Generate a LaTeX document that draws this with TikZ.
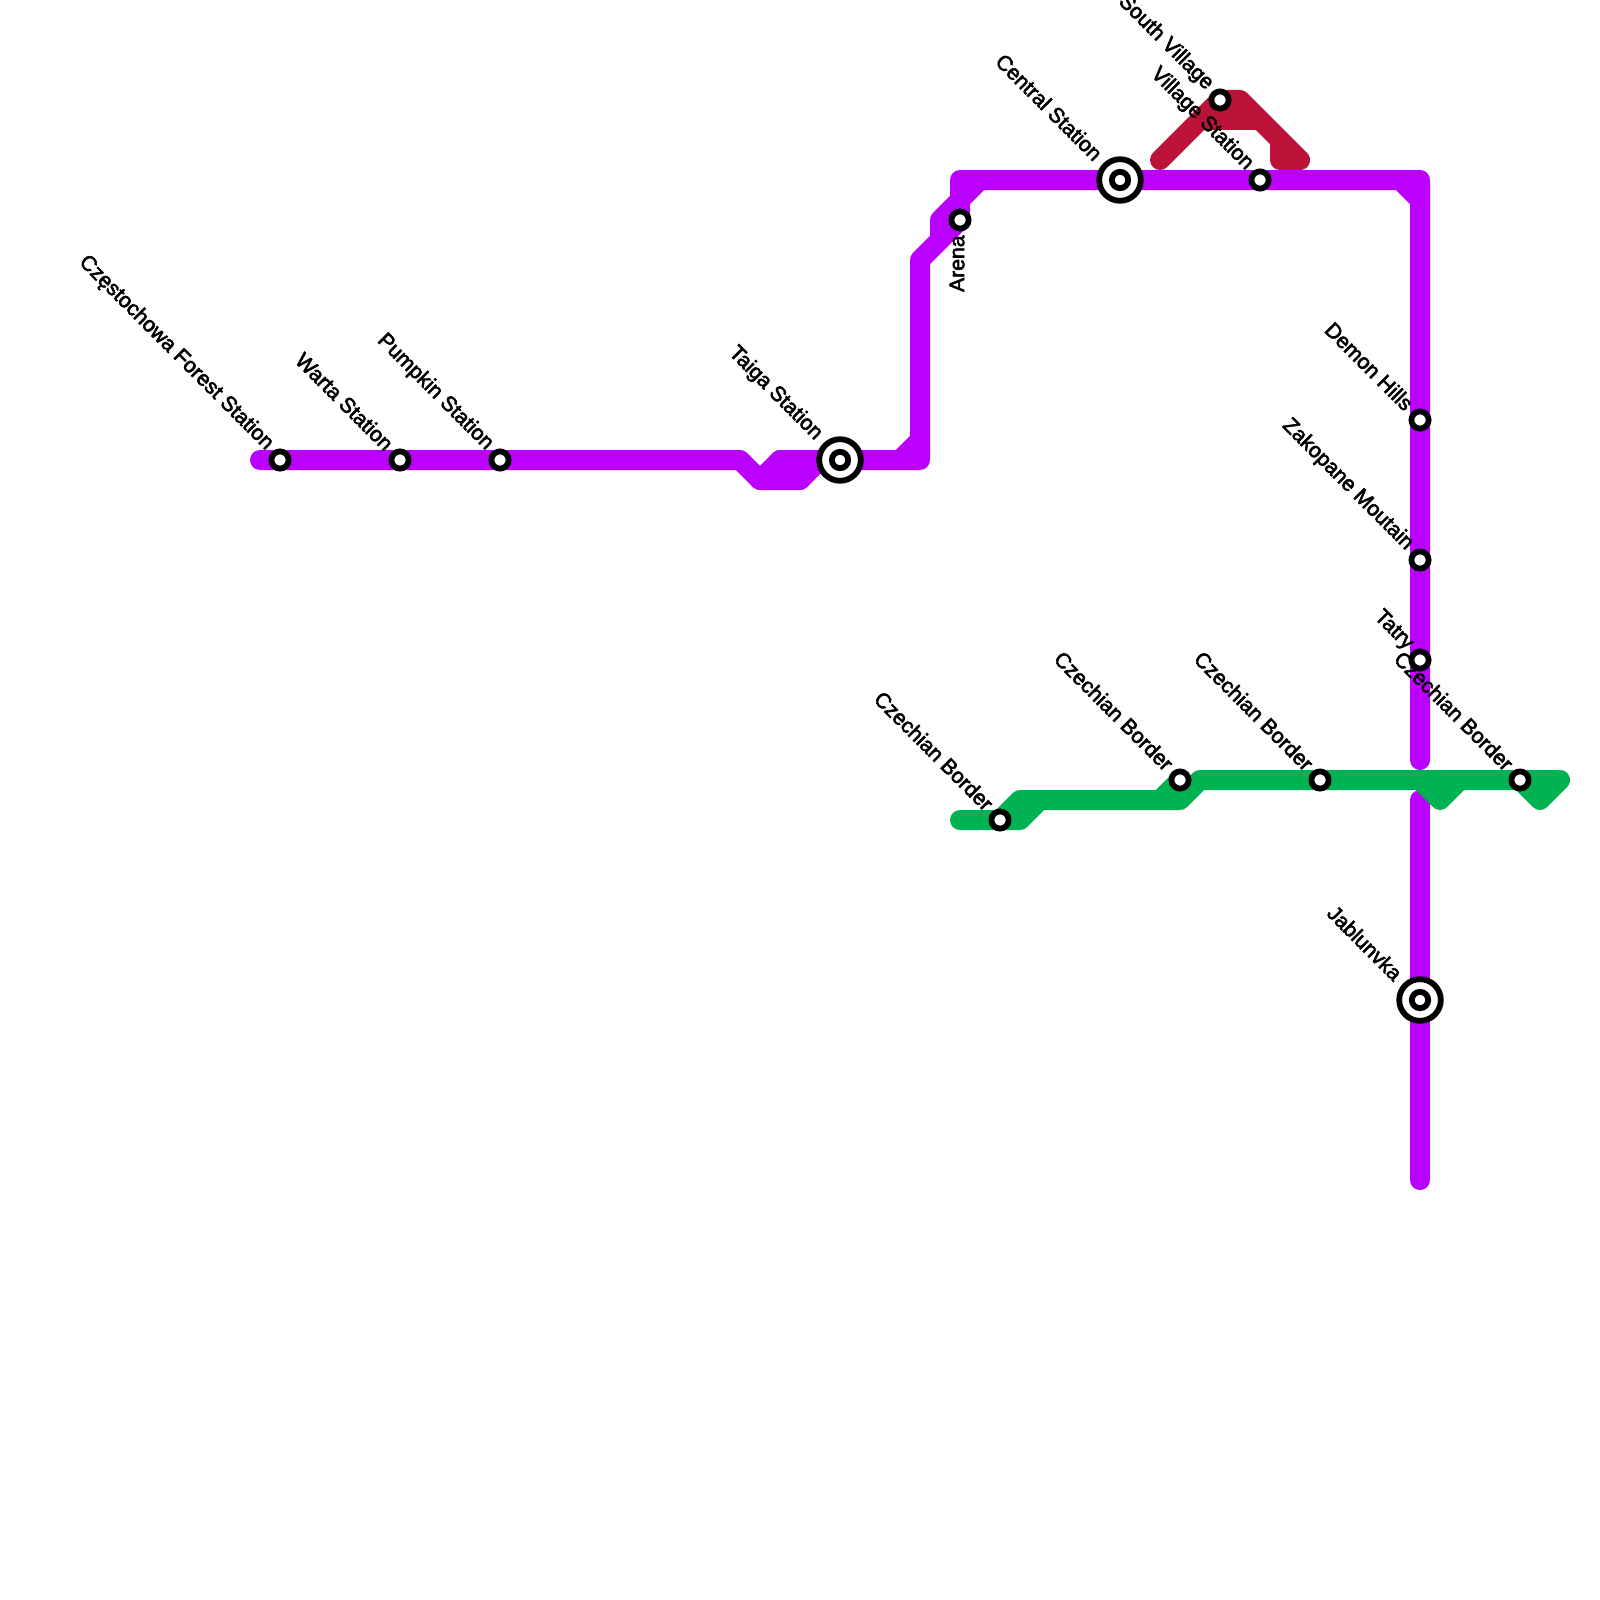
\documentclass[tikz,border=0pt]{standalone}
\usepackage{fontspec}
\newfontfamily\labelfont{Liberation Sans}
\definecolor{purpleline}{HTML}{BC00FF}
\definecolor{redline}{HTML}{BC1238}
\definecolor{greenline}{HTML}{00B251}
\newcommand{\heavytext}[1]{\special{pdf:code 2 Tr 0.28 w}#1\special{pdf:code 0 Tr 1 w}}
\tikzset{
  route/.style={line width=10pt,line cap=round,line join=round},
  plainstop/.style={circle,draw=black,fill=white,line width=2.9pt,minimum size=8.6pt,inner sep=0pt},
  bigstop/.style={circle,draw=black,fill=white,line width=2.9pt,minimum size=20.8pt,inner sep=0pt},
  hubdot/.style={circle,draw=black,fill=white,line width=2.9pt,minimum size=8.2pt,inner sep=0pt},
  stoplabel/.style={font=\labelfont\fontsize{10.6pt}{12pt}\selectfont,text=black,inner sep=0pt,anchor=east,rotate=-45},
}
\begin{document}
\begin{tikzpicture}[x=0.5pt,y=-0.5pt]
\useasboundingbox (0,0) rectangle (1600,1600);
\fill[white] (0,0) rectangle (1600,1600);
% route points
\foreach \n/\x/\y in {
 a1/260/460,a2/740/460,a3/760/480,a4/800/480,a5/820/460,a6/780/460,a7/920/460,a8/900/460,a9/920/440,
 b1/920/260,b2/940/240,b3/940/220,b4/960/200,b5/960/220,b6/960/180,b7/980/180,
 c1/1420/180,c2/1400/180,c3/1420/200,c4/1420/760,d1/1420/800,d2/1420/1180,
 r1/1160/160,r2/1220/100,r3/1240/100,r4/1300/160,r5/1280/160,r6/1280/140,r7/1260/120,r8/1200/120,
 g1/960/820,g2/1020/820,g3/1040/800,g4/1180/800,g5/1200/780,g6/1560/780,g7/1540/800,g8/1520/780,
 g9/1000/820,g10/1020/800,g11/1160/800,g12/1180/780,g13/1420/780,g14/1440/800,g15/1460/780}
 {\coordinate (\n) at (\x,\y);}
% stations
\coordinate (s1) at (280,460);
\coordinate (s2) at (400,460);
\coordinate (s3) at (500,460);
\coordinate (s4) at (840,460);
\coordinate (s5) at (960,220);
\coordinate (s6) at (1120,180);
\coordinate (s7) at (1220,100);
\coordinate (s8) at (1260,180);
\coordinate (s9) at (1420,420);
\coordinate (s10) at (1420,560);
\coordinate (s11) at (1420,660);
\coordinate (s12) at (1420,1000);
\coordinate (s13) at (1000,820);
\coordinate (s14) at (1180,780);
\coordinate (s15) at (1320,780);
\coordinate (s16) at (1520,780);
% red line
\draw[route,redline] (r1)--(r2)--(r3)--(r4)--(r5)--(r6)--(r7)--(r8);
% purple line
\draw[route,purpleline] (a1)--(a2)--(a3)--(a4)--(a5)--(s4);
\draw[route,purpleline] (a3)--(a6)--(a7)--(b1)--(b2)--(b5)--(b6)--(c1)--(c4);
\draw[route,purpleline] (a8)--(a9);
\draw[route,purpleline] (b2)--(b3)--(b4)--(b7);
\draw[route,purpleline] (c2)--(c3);
\draw[route,purpleline] (a6)--(a4);
\draw[route,purpleline] (d1)--(d2);
% green line
\draw[route,greenline] (g1)--(g2)--(g3)--(g4)--(g5)--(g6)--(g7)--(g8);
\draw[route,greenline] (g9)--(g10)--(g3);
\draw[route,greenline] (g11)--(g12);
\draw[route,greenline] (g13)--(g14)--(g15);
% station markers
\node[plainstop] (n1) at (s1) {};
\node[plainstop] (n2) at (s2) {};
\node[plainstop] (n3) at (s3) {};
\node[bigstop] (n4) at (s4) {};
\node[hubdot] (n4i) at (s4) {};
\node[plainstop] (n5) at (s5) {};
\node[bigstop] (n6) at (s6) {};
\node[hubdot] (n6i) at (s6) {};
\node[plainstop] (n7) at (s7) {};
\node[plainstop] (n8) at (s8) {};
\node[plainstop] (n9) at (s9) {};
\node[plainstop] (n10) at (s10) {};
\node[plainstop] (n11) at (s11) {};
\node[bigstop] (n12) at (s12) {};
\node[hubdot] (n12i) at (s12) {};
\node[plainstop] (n13) at (s13) {};
\node[plainstop] (n14) at (s14) {};
\node[plainstop] (n15) at (s15) {};
\node[plainstop] (n16) at (s16) {};
% labels
\node[stoplabel] (l1) at ([shift={(-10,-13)}]s1) {\heavytext{Częstochowa Forest Station}};
\node[stoplabel] (l2) at ([shift={(-10,-13)}]s2) {\heavytext{Warta Station}};
\node[stoplabel] (l3) at ([shift={(-10,-13)}]s3) {\heavytext{Pumpkin Station}};
\node[stoplabel] (l4) at ([shift={(-21,-23)}]s4) {\heavytext{Taiga Station}};
\node[stoplabel,rotate=135] (l5) at ([shift={(-3,15)}]s5) {\heavytext{Arena}};
\node[stoplabel] (l6) at ([shift={(-21,-23)}]s6) {\heavytext{Central Station}};
\node[stoplabel] (l7) at ([shift={(-10,-13)}]s7) {\heavytext{South Village}};
\node[stoplabel] (l8) at ([shift={(-10,-13)}]s8) {\heavytext{Village Station}};
\node[stoplabel] (l9) at ([shift={(-10,-13)}]s9) {\heavytext{Demon Hills}};
\node[stoplabel] (l10) at ([shift={(-10,-13)}]s10) {\heavytext{Zakopane Moutain}};
\node[stoplabel] (l11) at ([shift={(-10,-13)}]s11) {\heavytext{Tatry}};
\node[stoplabel] (l12) at ([shift={(-21,-23)}]s12) {\heavytext{Jablunvka}};
\node[stoplabel] (l13) at ([shift={(-10,-13)}]s13) {\heavytext{Czechian Border}};
\node[stoplabel] (l14) at ([shift={(-10,-13)}]s14) {\heavytext{Czechian Border}};
\node[stoplabel] (l15) at ([shift={(-10,-13)}]s15) {\heavytext{Czechian Border}};
\node[stoplabel] (l16) at ([shift={(-10,-13)}]s16) {\heavytext{Czechian Border}};
\end{tikzpicture}
\end{document}
